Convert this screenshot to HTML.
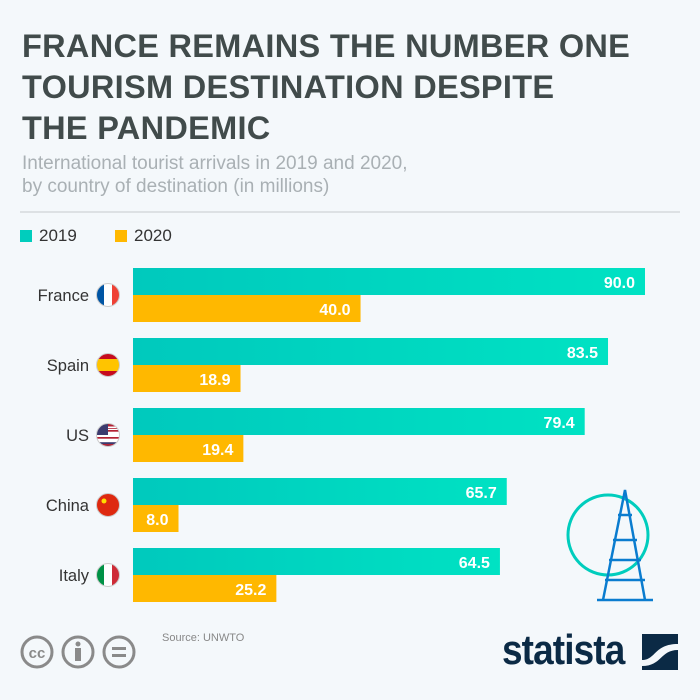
<!DOCTYPE html>
<html><head><meta charset="utf-8"><style>
body{margin:0;width:700px;height:700px;background:#f4f8fb;font-family:"Liberation Sans",sans-serif;overflow:hidden;position:relative}
.t{position:absolute;left:22px;top:26px;font-size:32.5px;font-weight:bold;color:#414b4b;line-height:41px;letter-spacing:0.3px}
.s{position:absolute;left:22px;top:152px;font-size:19px;color:#a9b0b4;line-height:23px}
.hr{position:absolute;left:20px;top:211px;width:660px;height:2px;background:#dde1e4}
.lg{position:absolute;top:226px;font-size:17px;color:#333}
.lg i{display:inline-block;width:12px;height:12px;margin-right:7px;vertical-align:-1px}
</style></head><body>
<div class="t">FRANCE REMAINS THE NUMBER ONE<br>TOURISM DESTINATION DESPITE<br>THE PANDEMIC</div>
<div class="s">International tourist arrivals in 2019 and 2020,<br>by country of destination (in millions)</div>
<div class="hr"></div>
<div class="lg" style="left:20px"><i style="background:#00cdbd"></i>2019</div>
<div class="lg" style="left:115px"><i style="background:#ffb800"></i>2020</div>
<svg id="c" width="700" height="700" style="position:absolute;left:0;top:0">
<defs id="defs"><linearGradient id="tg" x1="0" x2="1"><stop offset="0" stop-color="#00c9bd"/><stop offset="1" stop-color="#00e2c3"/></linearGradient></defs>
</svg>
<div style="position:absolute;left:162px;top:632px;font-size:11px;color:#888">Source: UNWTO</div>
<svg width="140" height="40" style="position:absolute;left:18px;top:633px">
<g fill="none" stroke="#8a8a8a" stroke-width="3"><circle cx="19" cy="19" r="15"/><circle cx="60" cy="19" r="15"/><circle cx="101" cy="19" r="15"/></g>
<text x="19" y="25" text-anchor="middle" font-size="15" font-weight="bold" fill="#8a8a8a" font-family="Liberation Sans">cc</text>
<rect x="57" y="15" width="6" height="13" fill="#8a8a8a"/><circle cx="60" cy="11" r="2.5" fill="#8a8a8a"/>
<rect x="94" y="14" width="14" height="3" fill="#8a8a8a"/><rect x="94" y="21" width="14" height="3" fill="#8a8a8a"/>
</svg>
<div style="position:absolute;left:502px;top:626px;font-size:42px;font-weight:bold;color:#0b2a45;letter-spacing:-1px;transform:scaleX(0.88);transform-origin:left">statista</div>
<svg width="36" height="36" style="position:absolute;left:642px;top:634px"><rect width="36" height="36" fill="#0b2a45"/><path d="M0 26 C14 26 12 10 36 10 L36 16 C18 16 20 32 0 32Z" fill="#f4f8fb"/></svg>
<script>
const countries=["France","Spain","US","China","Italy"];
const v2019=[90.0,83.5,79.4,65.7,64.5];
const v2020=[40.0,18.9,19.4,8.0,25.2];
const svg=document.getElementById('c');
const defs=document.getElementById('defs');
const NS="http://www.w3.org/2000/svg";
const x0=133, k=512/90;
const xs=v=>v*k;
const rowY=i=>268+i*70;
function mk(t,a,p){const e=document.createElementNS(NS,t);for(const n in a)e.setAttribute(n,a[n]);(p||svg).appendChild(e);return e;}
const flags=[["#0055a4","#fff","#ef4135"],["#c60b1e","#ffc400","#c60b1e"],["#b22234","#fff","#3c3b6e"],["#de2910","#de2910","#de2910"],["#009246","#fff","#ce2b37"]];
countries.forEach((c,i)=>{
 const y=rowY(i);
 const b1=mk('rect',{x:x0,y:y,width:xs(v2019[i]),height:27,fill:'url(#tg)'});
 
 
 const b2=mk('rect',{x:x0,y:y+27,width:xs(v2020[i]),height:27,fill:'#ffb800'});
 
 
 const t1=mk('text',{x:x0+xs(v2019[i])-10,y:y+20,'text-anchor':'end','font-size':16,'font-weight':'bold',fill:'#fff'});
 t1.textContent=v2019[i].toFixed(1);
 
 
 const t2=mk('text',{x:x0+xs(v2020[i])-10,y:y+47,'text-anchor':'end','font-size':16,'font-weight':'bold',fill:'#fff'});
 t2.textContent=v2020[i].toFixed(1);
 
 
 const l=mk('text',{x:89,y:y+33,'text-anchor':'end','font-size':16.5,fill:'#333'});
 l.textContent=c;
 
 
 const cx=108,cy=y+27,f=flags[i];
 const cp=mk('clipPath',{id:'cp'+i},defs);
 mk('circle',{cx:cx,cy:cy,r:11.5},cp);
 const g=mk('g',{'clip-path':'url(#cp'+i+')'});
 
 
 const vert=(i==0||i==4);
 for(let j=0;j<3;j++){
  if(vert) mk('rect',{x:cx-12+j*8,y:cy-12,width:8,height:24,fill:f[j]},g);
  else {const h=[6,12,6][j],yy=[0,6,18][j];mk('rect',{x:cx-12,y:cy-12+yy,width:24,height:h,fill:f[j]},g);}
 }
 if(i==2){for(let s=0;s<7;s++)mk('rect',{x:cx-12,y:cy-12+s*3.5,width:24,height:1.7,fill:s%2?'#fff':'#b22234'},g);mk('rect',{x:cx-12,y:cy-12,width:12,height:12,fill:'#3c3b6e'},g);}
 if(i==3)mk('circle',{cx:cx-4,cy:cy-4,r:2.5,fill:'#ffde00'},g);
 mk('circle',{cx:cx,cy:cy,r:11.5,fill:'none',stroke:'#ccc'});
});
</script>
<svg width="120" height="125" style="position:absolute;left:563px;top:480px">
<circle cx="45" cy="55" r="40" fill="none" stroke="#00cdbd" stroke-width="3"/>
<g fill="none" stroke="#0a7ccf" stroke-width="2.5"><path d="M40 120 L62 10 L82 120"/><path d="M50 60 L74 60 M46 80 L78 80 M42 100 L82 100 M55 35 L69 35"/><path d="M34 120 L90 120"/></g>
</svg>
</body></html>
